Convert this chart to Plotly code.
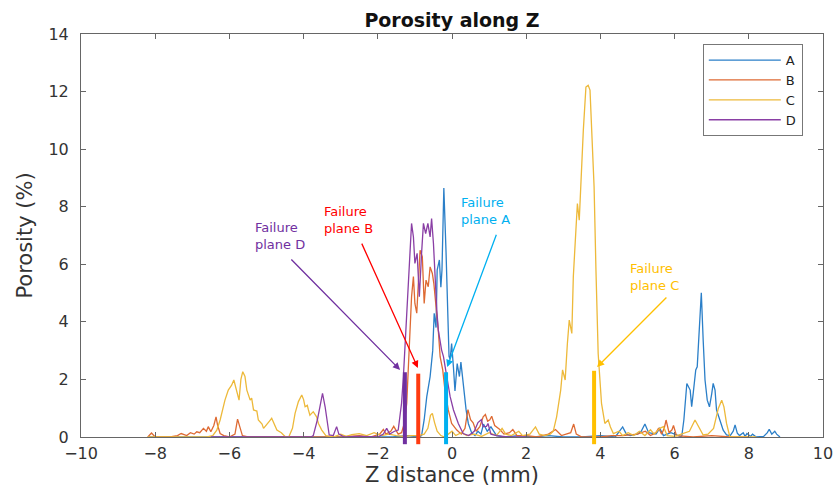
import plotly.graph_objects as go

# ---------------- data ----------------
A_x = [-8.2, -7.0, -5.0, -3.0, -1.6, -1.2, -0.9, -0.82, -0.75, -0.68, -0.59, -0.52, -0.48, -0.43, -0.40,
       -0.34, -0.30, -0.27, -0.22, -0.16, -0.12, -0.08, -0.05, -0.01, 0.04, 0.08, 0.14, 0.20, 0.24, 0.30,
       0.38, 0.44, 0.53, 0.62, 0.70, 0.78, 0.85, 0.95, 1.05, 1.2, 1.4, 1.8, 2.2, 2.6, 3.0, 3.5, 4.0, 4.4,
       4.6, 4.7, 4.8, 5.0, 5.1, 5.2, 5.3, 5.5, 5.6, 5.7, 5.9, 6.1, 6.19, 6.25, 6.33, 6.42, 6.46, 6.5, 6.57,
       6.61, 6.67, 6.72, 6.77, 6.82, 6.88, 6.94, 7.0, 7.04, 7.09, 7.13, 7.22, 7.31, 7.4, 7.5, 7.58, 7.63,
       7.69, 7.75, 7.85, 7.9, 7.95, 8.05, 8.1, 8.2, 8.4, 8.5, 8.55, 8.62, 8.7, 8.75, 8.84]
A_y = [0, 0, 0, 0, 0, 0.05, 0, 0.05, 0.6, 1.4, 2.1, 3.0, 4.3, 3.8, 5.8,
       6.15, 5.2, 5.8, 8.65, 6.4, 4.06, 2.8, 2.7, 3.25, 2.4, 1.6, 2.55, 2.1, 2.6, 1.86,
       0.94, 0.47, 0.14, 0.05, 0.2, 0.1, 0.45, 0.2, 0.35, 0.05, 0, 0.05, 0, 0.05, 0, 0, 0.05, 0,
       0.35, 0.1, 0.05, 0.1, 0.2, 0.45, 0.15, 0.1, 0.3, 0.05, 0.15, 0.05, 0, 0.6, 1.86, 1.63, 1.05, 1.5, 2.33,
       2.44, 3.7, 5.01, 3.37, 1.98, 1.28, 1.05, 1.5, 1.86, 1.63, 0.94, 0.59, 0.24, 0.07, 0.05, 0.2, 0.42,
       0.13, 0.05, 0.15, 0.02, 0.12, 0.02, 0.1, 0, 0.02, 0.15, 0.27, 0.1, 0.2, 0.1, 0]

B_x = [-8.2, -8.1, -8.0, -7.6, -7.4, -7.3, -7.15, -7.05, -6.95, -6.88, -6.8, -6.7, -6.62, -6.57, -6.5,
       -6.42, -6.36, -6.32, -6.25, -6.15, -6.0, -5.85, -5.78, -5.72, -5.65, -5.5, -5.0, -4.5, -4.0, -3.0,
       -2.5, -2.2, -1.95, -1.85, -1.78, -1.65, -1.57, -1.45, -1.36, -1.28, -1.22, -1.15, -1.09, -1.04, -1.0,
       -0.95, -0.91, -0.86, -0.8, -0.75, -0.7, -0.64, -0.59, -0.53, -0.49, -0.43, -0.37, -0.32, -0.25, -0.19,
       -0.1, -0.01, 0.13, 0.25, 0.35, 0.43, 0.5, 0.57, 0.65, 0.75, 0.84, 0.9, 0.96, 1.02, 1.07, 1.15, 1.29,
       1.4, 1.55, 1.64, 1.75, 2.0, 2.3, 2.6, 2.79, 2.95, 3.1, 3.2, 3.28, 3.35, 3.5, 4.0, 4.3, 4.6, 5.0,
       5.21, 5.35, 5.5, 5.57, 5.65, 5.72, 5.77, 5.85, 5.93, 5.97, 6.05, 6.5, 7.0, 7.5, 8.0]
B_y = [0, 0.14, 0, 0, 0.05, 0.12, 0.05, 0.15, 0.1, 0.18, 0.15, 0.3, 0.2, 0.36, 0.18,
       0.4, 0.7, 0.42, 0.12, 0.05, 0, 0.1, 0.62, 0.36, 0.05, 0, 0, 0.02, 0, 0,
       0.05, 0, 0.1, 0.26, 0.1, 0.2, 0.37, 0.1, 0.15, 0.5, 1.17, 3.0, 4.87, 5.57, 4.64,
       4.3, 5.45, 6.49, 6.26, 4.64, 5.45, 5.22, 5.91, 5.68, 5.34, 4.64, 3.72, 2.79, 2.33, 1.63,
       0.94, 0.47, 0.24, 0.1, 0.3, 0.95, 0.6, 0.49, 0.2, 0.36, 0.7, 0.78, 0.55, 0.6, 0.72, 0.4, 0.26,
       0.1, 0.15, 0.26, 0.05, 0.05, 0, 0.1, 0.26, 0.05, 0.1, 0.15, 0.45, 0.1, 0, 0, 0.05, 0.05, 0.1,
       0.2, 0.05, 0.15, 0.31, 0.1, 0.3, 0.59, 0.15, 0.25, 0.4, 0.05, 0, 0.05, 0, 0]

C_x = [-8.2, -7.5, -7.0, -6.6, -6.45, -6.34, -6.25, -6.12, -6.03, -5.94, -5.88, -5.8, -5.74, -5.69, -5.64,
       -5.58, -5.53, -5.44, -5.4, -5.35, -5.26, -5.22, -5.12, -5.08, -4.99, -4.92, -4.86, -4.8, -4.72, -4.6,
       -4.5, -4.4, -4.3, -4.23, -4.14, -4.05, -4.0, -3.96, -3.9, -3.87, -3.83, -3.74, -3.65, -3.6, -3.51,
       -3.4, -3.2, -3.0, -2.85, -2.7, -2.5, -2.3, -2.1, -1.9, -1.7, -1.5, -1.3, -1.1, -0.9, -0.75, -0.65,
       -0.58, -0.53, -0.47, -0.4, -0.3, -0.2, -0.1, 0.0, 0.1, 0.25, 0.4, 0.6, 0.8, 1.0, 1.2, 1.35, 1.45,
       1.6, 1.8, 1.9, 2.1, 2.25, 2.35, 2.5, 2.65, 2.73, 2.82, 2.93, 2.98, 3.05, 3.11, 3.16, 3.23, 3.27,
       3.34, 3.38, 3.43, 3.47, 3.54, 3.61, 3.67, 3.72, 3.76, 3.83, 3.88, 3.94, 4.03, 4.12, 4.21, 4.27,
       4.35, 4.5, 4.6, 4.75, 4.9, 5.05, 5.2, 5.35, 5.45, 5.6, 5.7, 5.8, 6.0, 6.2, 6.4, 6.55, 6.64, 6.77,
       6.9, 7.05, 7.18, 7.27, 7.33, 7.4, 7.49, 7.8, 8.2]
C_y = [0, 0, 0.02, 0, 0.05, 0.24, 0.59, 1.28, 1.63, 1.8, 1.98, 1.6, 1.28, 2.0, 2.27,
       2.1, 1.63, 1.28, 1.35, 0.94, 0.9, 0.59, 0.45, 0.3, 0.42, 0.55, 0.65, 0.45, 0.24, 0.15,
       0.02, 0, 0.3, 0.82, 1.23, 1.46, 1.3, 1.05, 1.1, 0.94, 0.76, 0.88, 0.7, 0.47, 0.24,
       0.05, 0, 0.1, 0.02, 0.08, 0.12, 0.05, 0.15, 0.05, 0.1, 0.05, 0.02, 0.05, 0.05, 0.1, 0.3,
       0.75, 0.82, 0.5, 0.2, 0.05, 0, 0.1, 0.2, 0.05, 0.15, 0.05, 0.1, 0.02, 0.15, 0.05, 0.3, 0.1,
       0.05, 0.2, 0.05, 0.1, 0.35, 0.1, 0.05, 0.1, 0.2, 0.7, 1.63, 2.33, 1.98, 3.25, 4.06, 3.6, 5.57,
       7.19, 8.11, 7.53, 8.92, 10.66, 12.16, 12.22, 12.05, 11.0, 8.69, 5.8, 2.9, 1.17, 0.47, 0.59, 0.35,
       0.12, 0.2, 0.05, 0.15, 0.05, 0.2, 0.05, 0.25, 0.1, 0.3, 0.36, 0.05, 0.02, 0.1, 0.2, 0.59, 0.36, 0.07,
       0.1, 0.3, 1.0, 1.28, 1.05, 0.47, 0, 0, 0]

D_x = [-6.5, -4.5, -3.8, -3.74, -3.63, -3.56, -3.49, -3.42, -3.36, -3.31, -3.2, -3.11, -3.05, -2.9, -2.5,
       -2.0, -1.85, -1.76, -1.68, -1.55, -1.45, -1.36, -1.31, -1.22, -1.15, -1.09, -1.04, -1.0, -0.94,
       -0.88, -0.82, -0.77, -0.71, -0.65, -0.59, -0.55, -0.5, -0.46, -0.41, -0.37, -0.32, -0.28, -0.23,
       -0.19, -0.14, -0.05, 0.04, 0.17, 0.3, 0.45, 0.6, 0.7, 0.79, 0.84, 0.93, 0.97, 1.05, 1.2, 1.5, 2.0]
D_y = [0, 0, 0, 0.05, 0.59, 1.05, 1.52, 1.05, 0.47, 0.07, 0.05, 0.36, 0.1, 0, 0.02,
       0, 0.1, 0.3, 0.1, 0.2, 0.24, 1.17, 2.1, 4.41, 6.38, 7.42, 6.95, 6.03, 6.38,
       4.87, 6.38, 7.42, 7.07, 7.42, 6.95, 7.59, 6.72, 5.45, 4.41, 3.72, 3.25, 3.02, 2.79,
       2.44, 2.09, 1.4, 0.94, 0.47, 0.12, 0.05, 0.2, 0.5, 0.6, 0.36, 0.37, 0.47, 0.1, 0.05, 0, 0]

series_names = ["A", "B", "C", "D"]
series_x = [A_x, B_x, C_x, D_x]
series_y = [A_y, B_y, C_y, D_y]
series_colors = ["#2B7FC8", "#DE6A33", "#EDB93A", "#8A3FA5"]

# failure planes
plane_labels = ["Failure<br>plane A", "Failure<br>plane B", "Failure<br>plane C", "Failure<br>plane D"]
plane_z = [-0.16, -0.91, 3.83, -1.27]
plane_top = [2.25, 2.2, 2.3, 2.25]
plane_bottom = -0.25
plane_colors = ["#00B0F0", "#FF3B10", "#FFC000", "#7030A0"]
text_colors = ["#00B0F0", "#FF0000", "#FFC000", "#7030A0"]
text_x = [0.89, -2.78, 5.47, -4.64]
text_y = [7.85, 7.53, 5.56, 6.98]
tail_x = [1.21, -2.45, 5.82, -4.37]
tail_y = [7.08, 6.77, 4.9, 6.22]
head_x = [-0.13, -0.92, 3.91, -1.40]
head_y = [2.43, 2.40, 2.43, 2.33]

X_RANGE = [-10, 10]
Y_RANGE = [0, 14]
FONT = "DejaVu Sans"

fig = go.Figure()
for name, xs, ys, col in zip(series_names, series_x, series_y, series_colors):
    fig.add_trace(go.Scatter(x=xs, y=ys, mode="lines", name=name,
                             line=dict(color=col, width=1.3)))

shapes = []
for z, top, col in zip(plane_z, plane_top, plane_colors):
    shapes.append(dict(type="line", xref="x", yref="paper", x0=z, x1=z,
                       y0=(plane_bottom - Y_RANGE[0]) / (Y_RANGE[1] - Y_RANGE[0]),
                       y1=(top - Y_RANGE[0]) / (Y_RANGE[1] - Y_RANGE[0]),
                       line=dict(color=col, width=4), layer="above"))

annotations = []
for lab, tc, pc, tx, ty, ax_, ay_, hx, hy in zip(plane_labels, text_colors, plane_colors,
                                                 text_x, text_y, tail_x, tail_y, head_x, head_y):
    annotations.append(dict(x=tx, y=ty, xref="x", yref="y", text=lab, showarrow=False,
                            font=dict(family=FONT, size=13, color=tc), align="left"))
    annotations.append(dict(x=hx, y=hy, xref="x", yref="y", ax=ax_, ay=ay_, axref="x", ayref="y",
                            text="", showarrow=True, arrowhead=2, arrowsize=1.1, arrowwidth=1.3,
                            arrowcolor=tc, standoff=0))

axis_common = dict(showline=True, linecolor="#666666", linewidth=1, mirror="ticks",
                   ticks="inside", ticklen=5, tickcolor="#666666", showgrid=False, zeroline=False,
                   tickfont=dict(family=FONT, size=16, color="#333333"))

fig.update_layout(
    width=835, height=489,
    margin=dict(l=81, r=12, t=34, b=52),
    paper_bgcolor="white", plot_bgcolor="white",
    title=dict(text="<b>Porosity along Z</b>", x=0.5, xref="paper", xanchor="center",
               y=1 - 20 / 489, yanchor="middle",
               font=dict(family=FONT, size=19, color="#111111")),
    xaxis=dict(range=X_RANGE, dtick=2, tick0=0, ticklabelstandoff=2,
               title=dict(text="Z distance (mm)", standoff=2,
                          font=dict(family=FONT, size=21, color="#333333")),
               **axis_common),
    yaxis=dict(range=Y_RANGE, dtick=2, tick0=0, ticklabelstandoff=8,
               title=dict(text="Porosity (%)", standoff=10,
                          font=dict(family=FONT, size=21, color="#333333")),
               **axis_common),
    legend=dict(x=0.838, y=0.975, xanchor="left", yanchor="top",
                bgcolor="white", bordercolor="#777777", borderwidth=1,
                font=dict(family=FONT, size=13, color="#222222"),
                itemwidth=72, tracegroupgap=0),
    shapes=shapes,
    annotations=annotations,
    showlegend=True,
)
fig.update_xaxes(automargin=False)
fig.update_yaxes(automargin=False)

fig.write_html("out.html", config=dict(displayModeBar=False),
               post_script="document.body.style.margin='0';document.body.style.overflow='hidden';")
